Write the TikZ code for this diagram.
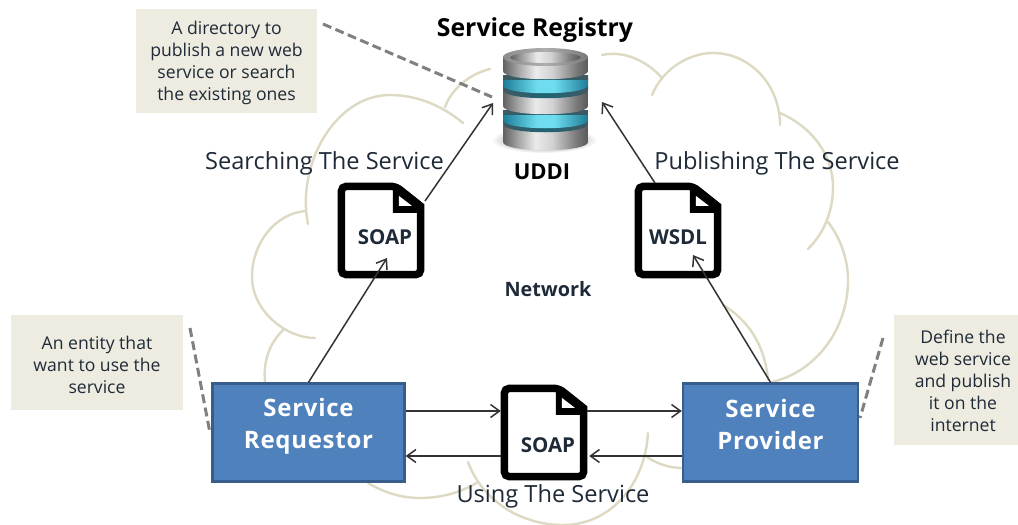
\documentclass[tikz,border=0pt]{standalone}
\usepackage{fontspec}
\setmainfont{Open Sans}[BoldFont={Open Sans Bold}]
\usetikzlibrary{arrows.meta,calc}
\definecolor{cloudc}{HTML}{DDD9C3}
\definecolor{notec}{HTML}{EEECE1}
\definecolor{boxc}{HTML}{4F81BD}
\definecolor{boxe}{HTML}{385D8A}
\definecolor{txt}{HTML}{1E2A38}
\definecolor{conc}{HTML}{333333}
\pgfdeclarehorizontalshading{dbgrey}{100bp}{color(0bp)=(white!35!black); color(25bp)=(white!38!black); color(33bp)=(white!62!black); color(44bp)=(white!92!black); color(54bp)=(white!82!black); color(68bp)=(white!48!black); color(75bp)=(white!35!black); color(100bp)=(white!35!black)}
\pgfdeclarehorizontalshading{dbtop}{100bp}{color(0bp)=(white!55!black); color(25bp)=(white!55!black); color(50bp)=(white!68!black); color(75bp)=(white!48!black); color(100bp)=(white!48!black)}
\definecolor{dkA}{HTML}{3E5A62}
\definecolor{dkB}{HTML}{1F6475}
\pgfdeclarehorizontalshading{dbdark}{100bp}{color(0bp)=(dkA); color(25bp)=(dkA); color(50bp)=(dkB); color(75bp)=(dkA); color(100bp)=(dkA)}
\definecolor{cyA}{HTML}{1C7C98}
\definecolor{cyB}{HTML}{6FDDEE}
\pgfdeclarehorizontalshading{dbcyan}{100bp}{color(0bp)=(cyA); color(25bp)=(cyA); color(45bp)=(cyB); color(55bp)=(cyB); color(75bp)=(cyA); color(100bp)=(cyA)}
\tikzset{
  cloudline/.style={draw=cloudc,line width=2.4pt,line cap=round},
  notebox/.style={fill=notec,inner sep=0pt},
  notetext/.style={inner sep=0pt,align=center,text=txt,font=\fontsize{17.6}{22}\selectfont},
  actor/.style={fill=boxc,draw=boxe,line width=2.4pt,inner sep=0pt,minimum width=192pt,minimum height=98pt},
  actortext/.style={inner sep=0pt,text=white,align=center,font=\fontsize{24}{32}\selectfont\bfseries\addfontfeatures{LetterSpace=3}},
  docnode/.style={minimum width=86pt,minimum height=95pt,inner sep=0pt},
  doctext/.style={inner sep=0pt,text=txt,font=\fontsize{20.5}{22}\selectfont\bfseries},
  docline/.style={draw=black,fill=white,line width=7.5pt,rounded corners=5pt},
  label/.style={inner sep=0pt,text=txt,font=\fontsize{23.6}{24}\selectfont},
  title/.style={inner sep=0pt,text=txt,font=\fontsize{#1}{24}\selectfont\bfseries},
  conn/.style={draw=conc,line width=1.5pt,-{Straight Barb[length=9pt,width=13pt,line width=1.5pt]}},
  dashline/.style={draw=black!50,line width=3pt,dash pattern=on 9pt off 4.5pt}
}
\newcommand{\dbseg}[3]{\shade[shading=#3] (503,#1) -- (503,#2) .. controls (503,#2+11) and (588,#2+11) .. (588,#2) -- (588,#1) -- cycle;}
\newcommand{\docicon}[1]{%
  \path[docline] ([shift={(3.5,3.5)}]#1.north west) -- ([shift={(58,3.5)}]#1.north west)
     [sharp corners] -- ([shift={(-3.5,-72)}]#1.south east) [rounded corners=5pt] -- ([shift={(-3.5,-3.5)}]#1.south east)
     -- ([shift={(3.5,-3.5)}]#1.south west) -- cycle;
  \fill[black] ([shift={(55,2)}]#1.north west) -- ([shift={(60,2)}]#1.north west) -- ([shift={(86,24)}]#1.north west) -- ([shift={(86,30)}]#1.north west) -- ([shift={(55,30)}]#1.north west) -- cycle;
  \fill[white] ([shift={(61,13)}]#1.north west) -- ([shift={(74,23)}]#1.north west) -- ([shift={(61,23)}]#1.north west) -- cycle;
}
\begin{document}
\begin{tikzpicture}[x=1pt,y=-1pt]
\useasboundingbox (0,0) rectangle (1018,525);
\fill[white] (0,0) rectangle (1018,525);
% cloud
\draw[cloudline] (265,382) .. controls (263,360) and (270,343) .. (283,330);
\draw[cloudline] (315,338) .. controls (285,338) and (252,310) .. (252,277) .. controls (252,243) and (275,214) .. (305,211);
\draw[cloudline] (308,224) .. controls (296,165) and (335,95) .. (390,95) .. controls (420,95) and (445,108) .. (463,123);
\draw[cloudline] (445,107) .. controls (452,88) and (470,74) .. (490,69);
\draw[cloudline] (602,55) .. controls (625,50) and (648,62) .. (662,78);
\draw[cloudline] (652,95) .. controls (662,70) and (688,53) .. (713,53) .. controls (750,53) and (780,85) .. (780,125);
\draw[cloudline] (780,113) .. controls (812,127) and (833,155) .. (833,187) .. controls (833,210) and (825,232) .. (808,249);
\draw[cloudline] (828,222) .. controls (842,240) and (848,262) .. (848,280) .. controls (848,330) and (815,372) .. (772,382);
\draw[cloudline] (723,305) .. controls (748,320) and (765,345) .. (768,380);
\draw[cloudline] (683,468) .. controls (670,468) and (657,464) .. (647,457);
\draw[cloudline] (648,433) .. controls (645,485) and (610,525) .. (563,525) .. controls (520,525) and (482,500) .. (468,462);
\draw[cloudline] (368,483) .. controls (385,493) and (402,498) .. (420,498) .. controls (442,498) and (462,492) .. (478,482);
% database
\shade[inner color=black!65,outer color=white] (544,140) ellipse [x radius=53,y radius=13];
\dbseg{125}{142}{dbgrey}
\dbseg{110}{124}{dbdark}
\dbseg{115}{120}{dbcyan}
\dbseg{90}{106}{dbgrey}
\dbseg{75}{90}{dbdark}
\dbseg{80}{85}{dbcyan}
\dbseg{57}{71}{dbgrey}
\shade[shading=dbtop] (545.5,57) ellipse [x radius=42.5,y radius=9];
\shade[shading=dbgrey] (545.5,57.5) ellipse [x radius=35,y radius=5.5];
% callouts
\node[notebox,minimum width=181pt,minimum height=104pt] (nreg) at (226.5,61) {};
\node[notetext] (nregt) at ([shift={(0,2)}]nreg.center) {A directory to\\publish a new web\\service or search\\the existing ones};
\node[notebox,minimum width=172pt,minimum height=95pt] (nreq) at (97,362.5) {};
\node[notetext] (nreqt) at ([shift={(0,2)}]nreq.center) {An entity that\\want to use the\\service};
\node[notebox,minimum width=124pt,minimum height=130pt] (nprov) at (956,380) {};
\node[notetext] (nprovt) at ([shift={(7,1)}]nprov.center) {Define the\\web service\\and publish\\it on the\\internet};
% coordinates
\coordinate (dregA) at (323,24); \coordinate (dregB) at (492,97);
\coordinate (dreqA) at (190,328); \coordinate (dreqB) at (210,433);
\coordinate (dprovA) at (883,338); \coordinate (dprovB) at (860,418);
\coordinate (regL) at (493,103); \coordinate (regR) at (602,102);
\coordinate (soapIn) at (387,258); \coordinate (soapOut) at (425,201);
\coordinate (wsdlIn) at (693,255); \coordinate (wsdlOut) at (655,183);
\draw[dashline] (dregA) -- (dregB);
\draw[dashline] (dreqA) -- (dreqB);
\draw[dashline] (dprovA) -- (dprovB);
% actors
\node[actor] (req) at (308.5,432.5) {};
\node[actortext] (reqt) at ([shift={(0,-6)}]req.center) {Service\\Requestor};
\node[actor,minimum width=175pt] (prov) at (770.5,432.5) {};
\node[actortext] (provt) at ([shift={(0,-8)}]prov.center) {Service\\Provider};
% documents
\node[docnode] (soapA) at (381,230.5) {};
\docicon{soapA}
\node[doctext] (soapAt) at (385,237) {SOAP};
\node[docnode] (wsdl) at (678,230.5) {};
\docicon{wsdl}
\node[doctext] (wsdlt) at (678,237) {WSDL};
\node[docnode] (soapB) at (544,432.5) {};
\docicon{soapB}
\node[doctext] (soapBt) at (548,445) {SOAP};
% connectors
\draw[conn] (req.north) -- (soapIn);
\draw[conn] (soapOut) -- (regL);
\draw[conn] (prov.north) -- (wsdlIn);
\draw[conn] (wsdlOut) -- (regR);
\draw[conn] (req.east |- 0,411) -- (soapB.west |- 0,411);
\draw[conn] (soapB.east |- 0,411) -- (prov.west |- 0,411);
\draw[conn] (prov.west |- 0,456) -- ([xshift=2pt]soapB.east |- 0,456);
\draw[conn] (soapB.west |- 0,456) -- (req.east |- 0,456);
% labels
\node[title=24.8,text=black] (ttl) at (535,30) {Service Registry};
\node[title=22,text=black] (uddi) at (542,172) {UDDI};
\node[title=19.8] (net) at (548,289) {Network};
\node[label] (ls) at (324.5,163) {Searching The Service};
\node[label] (lp) at (777,163) {Publishing The Service};
\node[label] (lu) at (553,496) {Using The Service};
\end{tikzpicture}
\end{document}
